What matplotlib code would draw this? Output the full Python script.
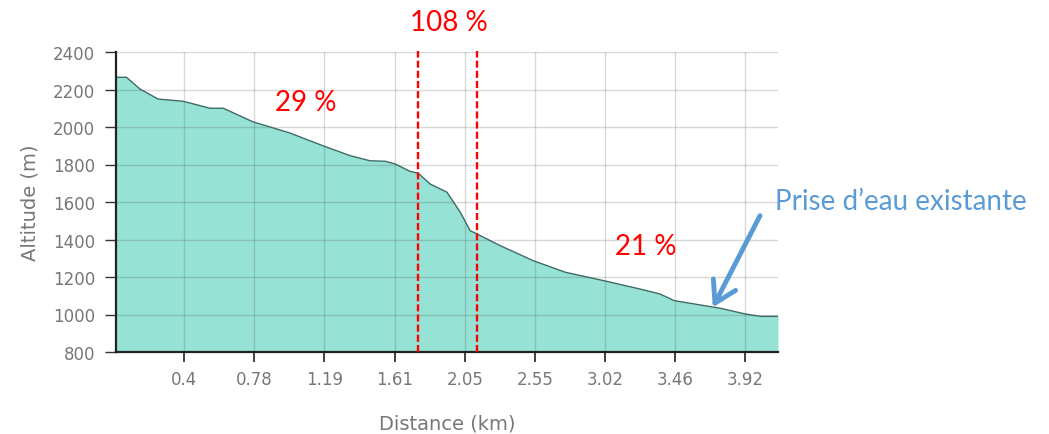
import matplotlib
matplotlib.use("Agg")
import matplotlib.pyplot as plt
import numpy as np

# ---- data ----
# x = sample position along the profile (10 samples between labelled ticks)
profile_pos = [0, 1.5, 3.4, 6.0, 9.6, 13.4, 15.3, 19.5, 24.8, 29.5, 33.4, 36.2, 38.4,
               39.8, 41.9, 43.1, 44.8, 47.2, 49.1, 50.5, 51.5, 54.8, 59.5, 64.1,
               69.6, 74.7, 77.6, 79.6, 83.3, 86.2, 89.7, 91.9, 94.4]
profile_alt = [2265, 2265, 2203, 2149, 2137, 2100, 2100, 2028, 1968, 1900, 1847, 1820, 1817,
               1803, 1764, 1753, 1696, 1652, 1545, 1447, 1429, 1367, 1287, 1225,
               1180, 1136, 1109, 1074, 1051, 1033, 1003, 990, 990]
x_tick_labels = ["0.4", "0.78", "1.19", "1.61", "2.05", "2.55", "3.02", "3.46", "3.92"]
y_ticks = [800, 1000, 1200, 1400, 1600, 1800, 2000, 2200, 2400]
steep_start, steep_end = 43.1, 51.5
slope_labels = ["29 %", "108 %", "21 %"]
slope_label_pos = [(27.0, 2133), (47.5, 2560), (75.5, 1365)]
intake_pos = (85.1, 1038)
intake_label = "Prise d\u2019eau existante"

# ---- figure ----
fig = plt.figure(figsize=(10.49, 4.35), dpi=100)
ax = fig.add_axes([116/1049, 82/435, 662/1049, 300/435])

x = np.array(profile_pos)
y = np.array(profile_alt)
ax.fill_between(x, y, 800, color="#96e2d4", lw=0, zorder=1)
ax.plot(x, y, color="#3d6b66", lw=1.0, zorder=2)

ax.set_xlim(0, 94.4)
ax.set_ylim(800, 2400)
ax.set_yticks(y_ticks)
ax.set_xticks([9.73 + 10 * k for k in range(len(x_tick_labels))])
ax.set_xticklabels(x_tick_labels)

for s in ("top", "right"):
    ax.spines[s].set_visible(False)
for s in ("left", "bottom"):
    ax.spines[s].set_color("#222222")
    ax.spines[s].set_linewidth(1.6)
    ax.spines[s].set_zorder(5)

ax.tick_params(axis="y", length=8, width=1, color="#333333", labelcolor="#777777",
               labelsize=12, pad=7)
ax.tick_params(axis="x", length=7, width=1.2, color="#222222", labelcolor="#777777",
               labelsize=12, pad=6)
ax.set_axisbelow(False)
ax.grid(True, lw=1.0, zorder=3)
ax.tick_params(axis="both", grid_color="#505050", grid_alpha=0.22, grid_linewidth=1.0)
ax.set_xlabel("Distance (km)", color="#777777", fontsize=14, labelpad=18)
ax.set_ylabel("Altitude (m)", color="#777777", fontsize=14, labelpad=10)

for xv in (steep_start, steep_end):
    ax.plot([xv, xv], [800, 2405], color="#ff0000", lw=1.7,
            dashes=(3.0, 1.3), zorder=6, clip_on=False)

for lab, (px, py) in zip(slope_labels, slope_label_pos):
    ax.text(px, py, lab, color="#ff0000", fontsize=20, family="Lato",
            ha="center", va="center", zorder=7, clip_on=False)

fig.text(775/1049, 1 - 201.7/435, intake_label, color="#5b9bd5", fontsize=20,
         family="Lato", ha="left", va="center")
ax.annotate("", xy=intake_pos, xycoords="data",
            xytext=(760/1049, 1 - 216.7/435), textcoords="figure fraction",
            arrowprops=dict(arrowstyle="->,head_length=0.75,head_width=0.45",
                            color="#5b9bd5", lw=3.5, mutation_scale=20,
                            shrinkA=0, shrinkB=0),
            annotation_clip=False, zorder=8)

fig.savefig("out.png", dpi=100)
